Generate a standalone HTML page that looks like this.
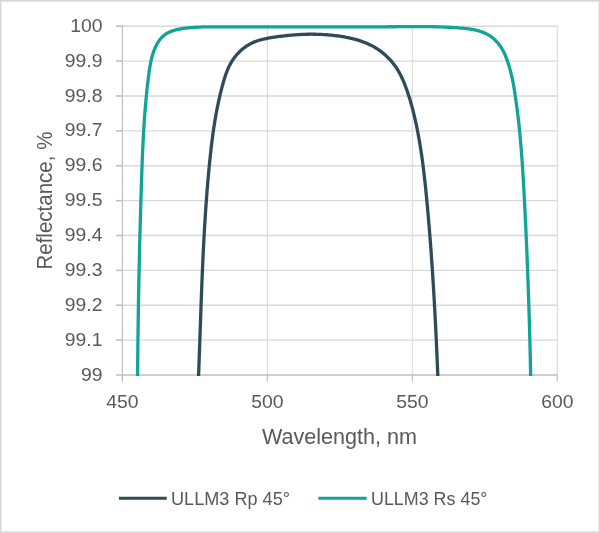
<!DOCTYPE html>
<html><head><meta charset="utf-8"><style>
html,body{margin:0;padding:0;background:#fff;}
body{width:600px;height:533px;overflow:hidden;}
svg{display:block;will-change:transform;}
.g{stroke:#d9d9d9;stroke-width:1.4;fill:none;}
.ax{stroke:#bfbfbf;stroke-width:1.2;fill:none;}
.t{font-family:"Liberation Sans",Arial,sans-serif;font-size:18px;fill:#595959;}
.tt{font-family:"Liberation Sans",Arial,sans-serif;font-size:21.5px;fill:#595959;}
</style></head><body>
<svg width="600" height="533" viewBox="0 0 600 533">
<rect x="0.5" y="0.5" width="599" height="532" fill="#fff" stroke="#d6d6d6" stroke-width="1"/>
<rect x="1.5" y="1.5" width="597" height="530" fill="none" stroke="#ebebeb" stroke-width="1"/>
<line x1="2" y1="2.5" x2="598" y2="2.5" stroke="#f8f8f8" stroke-width="1"/>
<line x1="116.00" y1="26.20" x2="557.30" y2="26.20" class="g"/><line x1="116.00" y1="61.08" x2="557.30" y2="61.08" class="g"/><line x1="116.00" y1="95.96" x2="557.30" y2="95.96" class="g"/><line x1="116.00" y1="130.84" x2="557.30" y2="130.84" class="g"/><line x1="116.00" y1="165.72" x2="557.30" y2="165.72" class="g"/><line x1="116.00" y1="200.60" x2="557.30" y2="200.60" class="g"/><line x1="116.00" y1="235.48" x2="557.30" y2="235.48" class="g"/><line x1="116.00" y1="270.36" x2="557.30" y2="270.36" class="g"/><line x1="116.00" y1="305.24" x2="557.30" y2="305.24" class="g"/><line x1="116.00" y1="340.12" x2="557.30" y2="340.12" class="g"/><line x1="267.37" y1="26.20" x2="267.37" y2="375.00" class="g" style="stroke-width:1.1"/><line x1="412.33" y1="26.20" x2="412.33" y2="375.00" class="g" style="stroke-width:1.1"/><line x1="557.30" y1="26.20" x2="557.30" y2="375.00" class="g" style="stroke-width:1.1"/>
<line x1="122.4" y1="26.2" x2="122.4" y2="381.5" class="ax"/>
<line x1="116" y1="375.0" x2="557.3" y2="375.0" class="ax" style="stroke-width:1.6"/>
<line x1="116" y1="26.20" x2="122.40" y2="26.20" class="ax" style="stroke-width:1.4"/><line x1="116" y1="61.08" x2="122.40" y2="61.08" class="ax" style="stroke-width:1.4"/><line x1="116" y1="95.96" x2="122.40" y2="95.96" class="ax" style="stroke-width:1.4"/><line x1="116" y1="130.84" x2="122.40" y2="130.84" class="ax" style="stroke-width:1.4"/><line x1="116" y1="165.72" x2="122.40" y2="165.72" class="ax" style="stroke-width:1.4"/><line x1="116" y1="200.60" x2="122.40" y2="200.60" class="ax" style="stroke-width:1.4"/><line x1="116" y1="235.48" x2="122.40" y2="235.48" class="ax" style="stroke-width:1.4"/><line x1="116" y1="270.36" x2="122.40" y2="270.36" class="ax" style="stroke-width:1.4"/><line x1="116" y1="305.24" x2="122.40" y2="305.24" class="ax" style="stroke-width:1.4"/><line x1="116" y1="340.12" x2="122.40" y2="340.12" class="ax" style="stroke-width:1.4"/><line x1="122.40" y1="375.00" x2="122.40" y2="381.50" class="ax"/><line x1="267.37" y1="375.00" x2="267.37" y2="381.50" class="ax"/><line x1="412.33" y1="375.00" x2="412.33" y2="381.50" class="ax"/><line x1="557.30" y1="375.00" x2="557.30" y2="381.50" class="ax"/>
<path d="M198.55,375.99 L198.62,374.36 L198.68,372.73 L198.74,371.10 L198.80,369.47 L198.86,367.84 L198.92,366.21 L198.98,364.58 L199.04,362.95 L199.10,361.32 L199.16,359.69 L199.22,358.06 L199.28,356.43 L199.34,354.80 L199.39,353.17 L199.45,351.54 L199.51,349.91 L199.57,348.28 L199.62,346.65 L199.68,345.02 L199.74,343.38 L199.79,341.75 L199.85,340.12 L199.91,338.49 L199.96,336.86 L200.02,335.23 L200.07,333.60 L200.13,331.97 L200.19,330.33 L200.24,328.70 L200.30,327.07 L200.36,325.44 L200.41,323.81 L200.47,322.18 L200.52,320.55 L200.58,318.91 L200.64,317.28 L200.69,315.65 L200.75,314.02 L200.81,312.39 L200.87,310.75 L200.92,309.12 L200.98,307.49 L201.04,305.86 L201.10,304.23 L201.16,302.60 L201.22,300.96 L201.28,299.33 L201.34,297.70 L201.40,296.07 L201.46,294.44 L201.52,292.80 L201.58,291.17 L201.64,289.54 L201.71,287.91 L201.77,286.28 L201.84,284.64 L201.90,283.01 L201.96,281.38 L202.03,279.75 L202.10,278.12 L202.16,276.49 L202.23,274.85 L202.30,273.22 L202.37,271.59 L202.44,269.96 L202.51,268.33 L202.58,266.70 L202.65,265.06 L202.72,263.43 L202.80,261.80 L202.87,260.17 L202.95,258.54 L203.02,256.91 L203.10,255.28 L203.18,253.65 L203.26,252.01 L203.34,250.38 L203.42,248.75 L203.50,247.12 L203.58,245.49 L203.67,243.86 L203.75,242.23 L203.84,240.60 L203.93,238.97 L204.01,237.34 L204.10,235.71 L204.19,234.08 L204.29,232.45 L204.38,230.82 L204.47,229.19 L204.57,227.56 L204.66,225.93 L204.76,224.30 L204.86,222.67 L204.96,221.04 L205.06,219.41 L205.17,217.78 L205.27,216.15 L205.38,214.52 L205.48,212.90 L205.59,211.27 L205.70,209.64 L205.82,208.01 L205.93,206.38 L206.04,204.75 L206.16,203.13 L206.28,201.50 L206.40,199.87 L206.52,198.24 L206.64,196.61 L206.76,194.99 L206.89,193.36 L207.02,191.73 L207.14,190.11 L207.28,188.48 L207.41,186.85 L207.54,185.23 L207.68,183.60 L207.82,181.97 L207.95,180.35 L208.10,178.72 L208.24,177.10 L208.38,175.47 L208.53,173.85 L208.68,172.22 L208.83,170.60 L208.98,168.97 L209.14,167.35 L209.29,165.72 L209.45,164.10 L209.61,162.47 L209.77,160.85 L209.94,159.23 L210.11,157.60 L210.28,155.98 L210.45,154.36 L210.63,152.74 L210.81,151.11 L210.99,149.49 L211.17,147.87 L211.36,146.25 L211.56,144.63 L211.75,143.01 L211.95,141.39 L212.16,139.77 L212.36,138.16 L212.58,136.54 L212.80,134.92 L213.02,133.31 L213.24,131.69 L213.48,130.08 L213.71,128.46 L213.95,126.85 L214.20,125.24 L214.45,123.63 L214.71,122.02 L214.98,120.41 L215.25,118.80 L215.52,117.19 L215.80,115.58 L216.09,113.98 L216.39,112.37 L216.69,110.77 L217.00,109.17 L217.31,107.57 L217.63,105.97 L217.96,104.37 L218.30,102.77 L218.64,101.17 L219.00,99.58 L219.36,97.98 L219.72,96.39 L220.10,94.80 L220.48,93.21 L220.87,91.62 L221.27,90.03 L221.68,88.44 L222.10,86.86 L222.52,85.27 L222.96,83.69 L223.40,82.11 L223.86,80.54 L224.33,78.96 L224.82,77.40 L225.33,75.84 L225.86,74.30 L226.42,72.76 L227.00,71.24 L227.62,69.73 L228.26,68.23 L228.94,66.76 L229.66,65.30 L230.42,63.86 L231.21,62.45 L232.06,61.05 L232.95,59.69 L233.88,58.35 L234.86,57.03 L235.88,55.75 L236.94,54.50 L238.05,53.29 L239.19,52.11 L240.37,50.97 L241.58,49.88 L242.83,48.82 L244.11,47.81 L245.43,46.84 L246.77,45.93 L248.14,45.06 L249.55,44.24 L250.98,43.48 L252.43,42.78 L253.91,42.13 L255.41,41.53 L256.93,40.99 L258.47,40.49 L260.03,40.03 L261.60,39.61 L263.18,39.23 L264.78,38.87 L266.38,38.54 L267.99,38.24 L269.61,37.95 L271.23,37.68 L272.86,37.42 L274.48,37.17 L276.10,36.92 L277.73,36.69 L279.35,36.47 L280.98,36.25 L282.61,36.05 L284.23,35.85 L285.86,35.67 L287.49,35.50 L289.12,35.33 L290.75,35.18 L292.38,35.04 L294.01,34.91 L295.64,34.79 L297.27,34.68 L298.90,34.58 L300.53,34.49 L302.16,34.42 L303.79,34.35 L305.42,34.30 L307.05,34.26 L308.68,34.24 L310.31,34.22 L311.94,34.22 L313.57,34.23 L315.20,34.25 L316.83,34.28 L318.45,34.33 L320.08,34.39 L321.71,34.47 L323.34,34.56 L324.96,34.66 L326.59,34.77 L328.21,34.90 L329.84,35.04 L331.46,35.20 L333.08,35.37 L334.71,35.55 L336.33,35.75 L337.95,35.97 L339.57,36.20 L341.18,36.44 L342.80,36.70 L344.41,36.98 L346.03,37.27 L347.63,37.58 L349.24,37.91 L350.83,38.27 L352.42,38.64 L354.01,39.04 L355.58,39.45 L357.15,39.90 L358.71,40.37 L360.26,40.86 L361.79,41.39 L363.32,41.94 L364.83,42.52 L366.33,43.13 L367.82,43.77 L369.29,44.44 L370.74,45.14 L372.18,45.88 L373.61,46.66 L375.01,47.47 L376.40,48.32 L377.76,49.20 L379.11,50.12 L380.44,51.09 L381.74,52.09 L383.02,53.12 L384.28,54.19 L385.51,55.28 L386.72,56.41 L387.90,57.56 L389.06,58.74 L390.18,59.94 L391.28,61.16 L392.34,62.41 L393.37,63.68 L394.37,64.97 L395.32,66.28 L396.24,67.62 L397.13,68.98 L397.98,70.35 L398.79,71.75 L399.58,73.16 L400.34,74.59 L401.06,76.03 L401.77,77.49 L402.44,78.96 L403.10,80.44 L403.73,81.93 L404.35,83.44 L404.95,84.95 L405.53,86.47 L406.09,87.99 L406.65,89.53 L407.19,91.06 L407.72,92.60 L408.23,94.15 L408.74,95.70 L409.23,97.26 L409.71,98.82 L410.19,100.38 L410.65,101.95 L411.10,103.52 L411.54,105.09 L411.97,106.67 L412.39,108.25 L412.80,109.83 L413.21,111.42 L413.60,113.01 L413.99,114.60 L414.37,116.19 L414.74,117.78 L415.10,119.37 L415.46,120.97 L415.81,122.56 L416.16,124.16 L416.49,125.76 L416.82,127.36 L417.15,128.96 L417.46,130.56 L417.78,132.16 L418.08,133.77 L418.38,135.37 L418.67,136.98 L418.96,138.58 L419.25,140.19 L419.52,141.80 L419.79,143.40 L420.06,145.01 L420.32,146.62 L420.58,148.23 L420.83,149.85 L421.07,151.46 L421.31,153.07 L421.55,154.69 L421.78,156.30 L422.01,157.91 L422.24,159.53 L422.46,161.15 L422.67,162.76 L422.88,164.38 L423.09,166.00 L423.30,167.62 L423.50,169.24 L423.69,170.86 L423.89,172.48 L424.08,174.10 L424.27,175.72 L424.45,177.34 L424.63,178.96 L424.81,180.58 L424.99,182.20 L425.16,183.83 L425.33,185.45 L425.50,187.07 L425.67,188.70 L425.83,190.32 L426.00,191.95 L426.16,193.57 L426.32,195.19 L426.48,196.82 L426.63,198.44 L426.79,200.07 L426.94,201.69 L427.09,203.32 L427.24,204.94 L427.39,206.57 L427.54,208.20 L427.69,209.82 L427.84,211.45 L427.98,213.07 L428.13,214.70 L428.27,216.33 L428.41,217.95 L428.55,219.58 L428.69,221.20 L428.83,222.83 L428.96,224.46 L429.10,226.08 L429.24,227.71 L429.37,229.34 L429.50,230.97 L429.63,232.59 L429.76,234.22 L429.89,235.85 L430.02,237.47 L430.15,239.10 L430.27,240.73 L430.40,242.36 L430.52,243.98 L430.64,245.61 L430.77,247.24 L430.89,248.87 L431.01,250.50 L431.12,252.12 L431.24,253.75 L431.36,255.38 L431.47,257.01 L431.59,258.64 L431.70,260.27 L431.82,261.90 L431.93,263.52 L432.04,265.15 L432.15,266.78 L432.26,268.41 L432.37,270.04 L432.47,271.67 L432.58,273.30 L432.68,274.93 L432.79,276.56 L432.89,278.18 L433.00,279.81 L433.10,281.44 L433.20,283.07 L433.30,284.70 L433.40,286.33 L433.50,287.96 L433.60,289.59 L433.69,291.22 L433.79,292.85 L433.88,294.48 L433.98,296.11 L434.07,297.74 L434.17,299.37 L434.26,301.00 L434.35,302.63 L434.44,304.26 L434.53,305.89 L434.62,307.52 L434.71,309.15 L434.80,310.78 L434.88,312.41 L434.97,314.04 L435.06,315.67 L435.14,317.30 L435.23,318.93 L435.31,320.56 L435.40,322.19 L435.48,323.82 L435.56,325.45 L435.64,327.08 L435.72,328.71 L435.80,330.35 L435.88,331.98 L435.96,333.61 L436.04,335.24 L436.12,336.87 L436.20,338.50 L436.27,340.13 L436.35,341.76 L436.42,343.39 L436.50,345.02 L436.57,346.65 L436.65,348.28 L436.72,349.91 L436.80,351.54 L436.87,353.17 L436.94,354.80 L437.01,356.44 L437.08,358.07 L437.15,359.70 L437.23,361.33 L437.30,362.96 L437.37,364.59 L437.43,366.22 L437.50,367.85 L437.57,369.48 L437.64,371.11 L437.71,372.74 L437.77,374.37 L437.84,376.00" fill="none" stroke="#2f4b57" stroke-width="3.3" stroke-linejoin="round" stroke-linecap="butt"/>
<path d="M137.61,375.98 L137.62,373.94 L137.63,371.89 L137.65,369.85 L137.66,367.81 L137.68,365.76 L137.70,363.72 L137.71,361.68 L137.73,359.63 L137.75,357.59 L137.77,355.54 L137.79,353.50 L137.81,351.45 L137.83,349.41 L137.85,347.36 L137.87,345.32 L137.89,343.27 L137.92,341.23 L137.94,339.18 L137.97,337.13 L137.99,335.09 L138.02,333.04 L138.04,331.00 L138.07,328.95 L138.10,326.90 L138.13,324.85 L138.15,322.81 L138.18,320.76 L138.21,318.71 L138.24,316.67 L138.27,314.62 L138.31,312.57 L138.34,310.52 L138.37,308.48 L138.40,306.43 L138.44,304.38 L138.47,302.33 L138.51,300.28 L138.54,298.24 L138.58,296.19 L138.62,294.14 L138.66,292.09 L138.69,290.04 L138.73,288.00 L138.77,285.95 L138.81,283.90 L138.85,281.85 L138.89,279.80 L138.93,277.75 L138.98,275.71 L139.02,273.66 L139.06,271.61 L139.11,269.56 L139.15,267.51 L139.19,265.46 L139.24,263.42 L139.29,261.37 L139.33,259.32 L139.38,257.27 L139.43,255.22 L139.48,253.17 L139.52,251.13 L139.57,249.08 L139.62,247.03 L139.67,244.98 L139.72,242.93 L139.78,240.89 L139.83,238.84 L139.88,236.79 L139.93,234.74 L139.99,232.70 L140.04,230.65 L140.10,228.60 L140.15,226.55 L140.21,224.51 L140.26,222.46 L140.32,220.41 L140.38,218.37 L140.44,216.32 L140.49,214.27 L140.55,212.23 L140.61,210.18 L140.67,208.14 L140.73,206.09 L140.79,204.04 L140.85,202.00 L140.92,199.95 L140.98,197.91 L141.04,195.86 L141.11,193.82 L141.17,191.77 L141.23,189.73 L141.30,187.68 L141.36,185.64 L141.43,183.60 L141.50,181.55 L141.56,179.51 L141.63,177.47 L141.70,175.42 L141.77,173.38 L141.84,171.34 L141.91,169.29 L141.99,167.25 L142.06,165.21 L142.14,163.17 L142.22,161.13 L142.30,159.08 L142.38,157.04 L142.47,155.00 L142.55,152.96 L142.64,150.92 L142.74,148.88 L142.83,146.83 L142.93,144.79 L143.03,142.75 L143.13,140.71 L143.24,138.67 L143.34,136.63 L143.46,134.59 L143.57,132.55 L143.69,130.51 L143.81,128.47 L143.94,126.43 L144.07,124.38 L144.21,122.34 L144.34,120.30 L144.49,118.26 L144.63,116.22 L144.79,114.18 L144.94,112.14 L145.10,110.10 L145.27,108.06 L145.44,106.02 L145.61,103.98 L145.80,101.94 L145.98,99.90 L146.17,97.85 L146.37,95.81 L146.57,93.77 L146.78,91.73 L146.99,89.69 L147.21,87.65 L147.44,85.61 L147.67,83.57 L147.91,81.52 L148.16,79.48 L148.41,77.44 L148.67,75.40 L148.93,73.36 L149.21,71.31 L149.50,69.28 L149.82,67.24 L150.16,65.21 L150.53,63.19 L150.94,61.18 L151.39,59.18 L151.89,57.19 L152.44,55.21 L153.05,53.25 L153.72,51.31 L154.46,49.38 L155.27,47.48 L156.16,45.61 L157.13,43.78 L158.18,42.03 L159.32,40.35 L160.55,38.76 L161.88,37.29 L163.31,35.93 L164.83,34.72 L166.46,33.64 L168.17,32.68 L169.96,31.85 L171.82,31.12 L173.74,30.48 L175.70,29.93 L177.71,29.46 L179.74,29.06 L181.80,28.71 L183.87,28.41 L185.94,28.14 L188.00,27.91 L190.06,27.70 L192.12,27.52 L194.18,27.37 L196.23,27.24 L198.28,27.13 L200.33,27.04 L202.38,26.97 L204.43,26.91 L206.47,26.87 L208.51,26.84 L210.56,26.82 L212.60,26.81 L214.64,26.80 L216.68,26.80 L218.73,26.81 L220.77,26.81 L222.81,26.82 L224.85,26.82 L226.90,26.83 L228.94,26.83 L230.99,26.84 L233.03,26.84 L235.08,26.85 L237.12,26.85 L239.17,26.85 L241.22,26.86 L243.26,26.86 L245.31,26.87 L247.36,26.87 L249.41,26.88 L251.46,26.88 L253.51,26.89 L255.55,26.89 L257.60,26.89 L259.65,26.90 L261.70,26.90 L263.75,26.91 L265.80,26.91 L267.86,26.91 L269.91,26.92 L271.96,26.92 L274.01,26.92 L276.06,26.93 L278.11,26.93 L280.16,26.93 L282.21,26.94 L284.27,26.94 L286.32,26.94 L288.37,26.94 L290.42,26.95 L292.47,26.95 L294.53,26.95 L296.58,26.95 L298.63,26.95 L300.68,26.96 L302.74,26.96 L304.79,26.96 L306.84,26.96 L308.89,26.96 L310.94,26.96 L313.00,26.96 L315.05,26.96 L317.10,26.96 L319.15,26.96 L321.20,26.96 L323.25,26.96 L325.30,26.96 L327.35,26.95 L329.40,26.95 L331.45,26.95 L333.50,26.95 L335.55,26.95 L337.60,26.94 L339.65,26.94 L341.70,26.94 L343.75,26.93 L345.80,26.93 L347.85,26.92 L349.89,26.92 L351.94,26.92 L353.99,26.91 L356.04,26.90 L358.08,26.90 L360.13,26.89 L362.17,26.89 L364.22,26.88 L366.26,26.87 L368.31,26.86 L370.35,26.86 L372.39,26.85 L374.44,26.84 L376.48,26.83 L378.52,26.82 L380.56,26.81 L382.60,26.80 L384.64,26.79 L386.68,26.78 L388.72,26.77 L390.75,26.75 L392.79,26.74 L394.83,26.73 L396.86,26.72 L398.90,26.70 L400.93,26.69 L402.97,26.67 L405.00,26.66 L407.03,26.65 L409.07,26.63 L411.10,26.62 L413.13,26.61 L415.17,26.61 L417.20,26.60 L419.24,26.61 L421.27,26.61 L423.31,26.62 L425.35,26.63 L427.38,26.65 L429.42,26.67 L431.47,26.71 L433.51,26.74 L435.56,26.79 L437.60,26.84 L439.65,26.90 L441.71,26.97 L443.76,27.05 L445.82,27.13 L447.88,27.23 L449.94,27.34 L452.01,27.45 L454.08,27.58 L456.15,27.72 L458.23,27.88 L460.31,28.04 L462.39,28.22 L464.48,28.42 L466.56,28.65 L468.63,28.91 L470.68,29.21 L472.72,29.55 L474.74,29.94 L476.73,30.39 L478.70,30.91 L480.63,31.49 L482.52,32.15 L484.37,32.89 L486.18,33.72 L487.93,34.64 L489.63,35.67 L491.27,36.80 L492.85,38.03 L494.37,39.36 L495.83,40.77 L497.21,42.27 L498.53,43.84 L499.78,45.48 L500.95,47.19 L502.04,48.94 L503.06,50.74 L504.01,52.59 L504.88,54.46 L505.69,56.37 L506.45,58.30 L507.17,60.24 L507.84,62.19 L508.48,64.15 L509.09,66.12 L509.66,68.09 L510.20,70.07 L510.72,72.05 L511.21,74.04 L511.67,76.03 L512.12,78.03 L512.54,80.03 L512.93,82.04 L513.32,84.05 L513.68,86.06 L514.03,88.07 L514.36,90.09 L514.69,92.11 L515.00,94.13 L515.31,96.15 L515.61,98.18 L515.90,100.20 L516.18,102.22 L516.46,104.25 L516.74,106.28 L517.00,108.30 L517.26,110.33 L517.52,112.36 L517.76,114.39 L518.01,116.42 L518.24,118.45 L518.48,120.48 L518.70,122.52 L518.92,124.55 L519.14,126.58 L519.35,128.62 L519.55,130.65 L519.75,132.69 L519.95,134.73 L520.14,136.76 L520.33,138.80 L520.51,140.84 L520.69,142.88 L520.86,144.92 L521.03,146.96 L521.20,149.00 L521.36,151.04 L521.52,153.08 L521.68,155.12 L521.83,157.16 L521.98,159.20 L522.12,161.24 L522.26,163.29 L522.40,165.33 L522.54,167.37 L522.67,169.42 L522.80,171.46 L522.93,173.50 L523.06,175.55 L523.18,177.59 L523.30,179.64 L523.42,181.68 L523.54,183.73 L523.66,185.77 L523.77,187.82 L523.89,189.86 L524.00,191.91 L524.11,193.95 L524.21,196.00 L524.32,198.04 L524.43,200.09 L524.53,202.13 L524.64,204.18 L524.74,206.22 L524.85,208.27 L524.95,210.31 L525.05,212.36 L525.15,214.40 L525.25,216.45 L525.35,218.49 L525.45,220.54 L525.55,222.58 L525.64,224.63 L525.74,226.67 L525.83,228.72 L525.93,230.76 L526.02,232.81 L526.11,234.85 L526.21,236.90 L526.30,238.94 L526.39,240.99 L526.48,243.03 L526.57,245.08 L526.65,247.12 L526.74,249.17 L526.83,251.21 L526.91,253.26 L527.00,255.30 L527.08,257.35 L527.17,259.39 L527.25,261.44 L527.33,263.48 L527.41,265.53 L527.49,267.57 L527.57,269.62 L527.65,271.66 L527.73,273.71 L527.80,275.75 L527.88,277.80 L527.95,279.84 L528.03,281.89 L528.10,283.93 L528.18,285.98 L528.25,288.02 L528.32,290.07 L528.39,292.11 L528.46,294.16 L528.53,296.20 L528.60,298.25 L528.67,300.29 L528.74,302.34 L528.80,304.38 L528.87,306.43 L528.93,308.47 L529.00,310.52 L529.06,312.56 L529.12,314.61 L529.19,316.66 L529.25,318.70 L529.31,320.75 L529.37,322.79 L529.43,324.84 L529.48,326.88 L529.54,328.93 L529.60,330.98 L529.65,333.02 L529.71,335.07 L529.76,337.12 L529.82,339.16 L529.87,341.21 L529.92,343.26 L529.98,345.30 L530.03,347.35 L530.08,349.40 L530.13,351.44 L530.18,353.49 L530.23,355.54 L530.27,357.58 L530.32,359.63 L530.37,361.68 L530.41,363.73 L530.46,365.77 L530.50,367.82 L530.54,369.87 L530.59,371.92 L530.63,373.96 L530.67,376.01" fill="none" stroke="#12a596" stroke-width="3.3" stroke-linejoin="round" stroke-linecap="butt"/>
<text transform="translate(102.5,31.80) scale(1.075,1)" class="t" text-anchor="end">100</text><text transform="translate(102.5,66.68) scale(1.075,1)" class="t" text-anchor="end">99.9</text><text transform="translate(102.5,101.56) scale(1.075,1)" class="t" text-anchor="end">99.8</text><text transform="translate(102.5,136.44) scale(1.075,1)" class="t" text-anchor="end">99.7</text><text transform="translate(102.5,171.32) scale(1.075,1)" class="t" text-anchor="end">99.6</text><text transform="translate(102.5,206.20) scale(1.075,1)" class="t" text-anchor="end">99.5</text><text transform="translate(102.5,241.08) scale(1.075,1)" class="t" text-anchor="end">99.4</text><text transform="translate(102.5,275.96) scale(1.075,1)" class="t" text-anchor="end">99.3</text><text transform="translate(102.5,310.84) scale(1.075,1)" class="t" text-anchor="end">99.2</text><text transform="translate(102.5,345.72) scale(1.075,1)" class="t" text-anchor="end">99.1</text><text transform="translate(102.5,380.60) scale(1.075,1)" class="t" text-anchor="end">99</text>
<text transform="translate(122.40,407.8) scale(1.075,1)" class="t" text-anchor="middle">450</text><text transform="translate(267.37,407.8) scale(1.075,1)" class="t" text-anchor="middle">500</text><text transform="translate(412.33,407.8) scale(1.075,1)" class="t" text-anchor="middle">550</text><text transform="translate(557.30,407.8) scale(1.075,1)" class="t" text-anchor="middle">600</text>
<text x="339.5" y="443.6" class="tt" text-anchor="middle" textLength="155" lengthAdjust="spacingAndGlyphs">Wavelength, nm</text>
<text transform="translate(52.2,200.6) rotate(-90)" x="0" y="0" class="tt" text-anchor="middle" textLength="138" lengthAdjust="spacingAndGlyphs">Reflectance, %</text>
<line x1="119" y1="498.3" x2="166.7" y2="498.3" stroke="#2f4b57" stroke-width="3"/>
<text x="171" y="504.5" class="t" style="font-size:19.2px" textLength="119" lengthAdjust="spacingAndGlyphs">ULLM3 Rp 45°</text>
<line x1="318.3" y1="498.3" x2="366.7" y2="498.3" stroke="#12a596" stroke-width="3"/>
<text x="371" y="504.5" class="t" style="font-size:19.2px" textLength="116.5" lengthAdjust="spacingAndGlyphs">ULLM3 Rs 45°</text>
</svg>
</body></html>
